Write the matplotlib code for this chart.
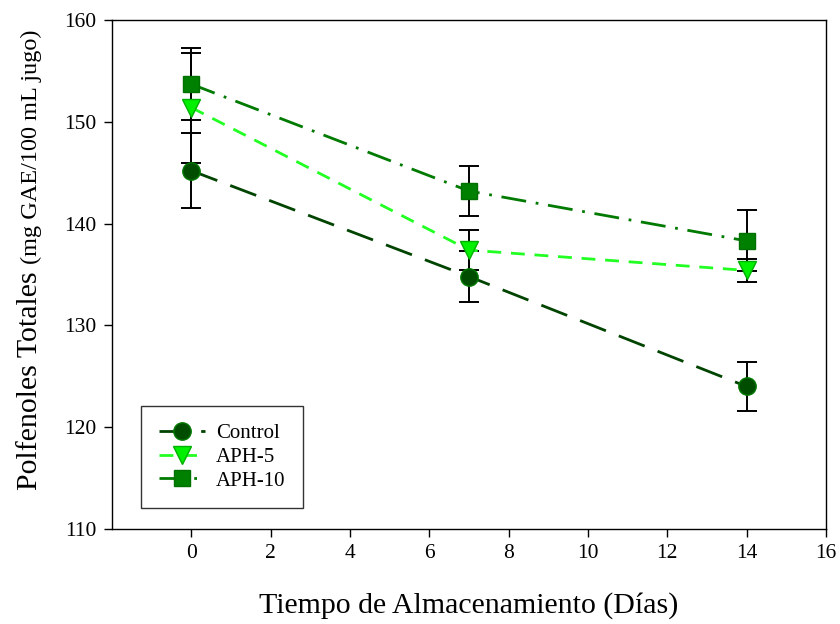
import matplotlib
matplotlib.use("Agg")
import matplotlib.pyplot as plt

days = [0, 7, 14]
control = [145.2, 134.8, 124.0]
control_err = [3.7, 2.5, 2.4]
aph5 = [151.4, 137.4, 135.4]
aph5_err = [5.4, 2.0, 1.1]
aph10 = [153.7, 143.2, 138.3]
aph10_err = [3.5, 2.5, 3.0]
xticks = [0, 2, 4, 6, 8, 10, 12, 14, 16]
yticks = [110, 120, 130, 140, 150, 160]

plt.rcParams['font.family'] = ['Liberation Serif', 'DejaVu Serif']

fig = plt.figure(figsize=(8.4, 6.24), dpi=100)
ax = fig.add_axes([0.1333, 0.1522, 0.85, 0.8158])

series = [
    ("Control", control, control_err, '#004400', 'o', 12.5, '#004d00', '#007a00', (0, (10, 5))),
    ("APH-5", aph5, aph5_err, '#22ff22', 'v', 12.5, '#00f000', '#00b000', (0, (5, 3.5))),
    ("APH-10", aph10, aph10_err, '#007a00', 's', 11, '#008000', '#007000', (0, (9, 3.5, 1, 3.5))),
]

for name, vals, errs, lc, mk, ms, mfc, mec, ls in series:
    ax.errorbar(days, vals, yerr=errs, fmt='none', ecolor='black', elinewidth=1.4,
                capsize=7, capthick=1.4, zorder=2)
    ax.plot(days, vals, color=lc, linestyle=ls, linewidth=2.0, marker=mk,
            markersize=ms, markerfacecolor=mfc, markeredgecolor=mec,
            markeredgewidth=1.0, label=name, zorder=3)

ax.set_xlim(-2, 16)
ax.set_ylim(110, 160)
ax.set_xticks(xticks)
ax.set_yticks(yticks)
ax.tick_params(axis='both', direction='out', length=6, width=1, labelsize=15.5,
               colors='black', pad=5)
for sp in ax.spines.values():
    sp.set_linewidth(1.0)
    sp.set_color('black')

ax.set_xlabel("Tiempo de Almacenamiento (Días)", fontsize=21.5, labelpad=21)

leg = ax.legend(loc='upper left', bbox_to_anchor=(0.0406, 0.2417), borderaxespad=0,
                fontsize=15, frameon=True, fancybox=False, edgecolor='black',
                handlelength=2.2, borderpad=0.85, labelspacing=0.2, handletextpad=0.55)
leg.get_frame().set_linewidth(1.0)

# y label with two font sizes
fig.canvas.draw()
x0 = 37 / 840
y0 = 1 - 490 / 624
t1 = fig.text(x0, y0, "Polfenoles Totales ", rotation=90, rotation_mode='anchor',
              ha='left', va='baseline', fontsize=21.5)
fig.canvas.draw()
bb = t1.get_window_extent(fig.canvas.get_renderer())
y1 = bb.y1 / fig.bbox.height
fig.text(x0, y1, "(mg GAE/100 mL jugo)", rotation=90, rotation_mode='anchor',
         ha='left', va='baseline', fontsize=17.5)

fig.savefig("out.png", dpi=100)
